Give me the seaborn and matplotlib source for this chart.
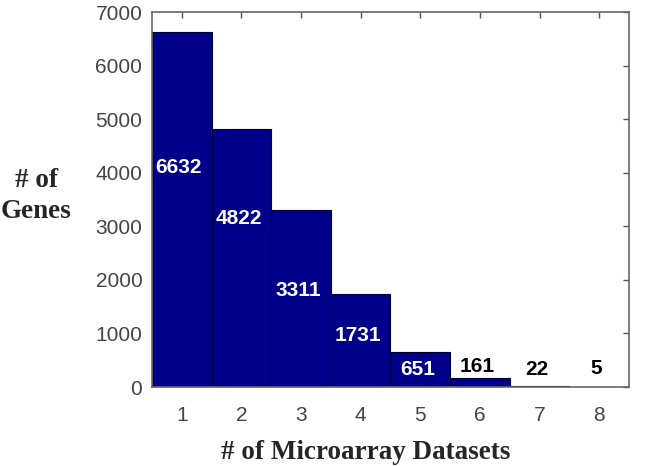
import matplotlib
matplotlib.use("Agg")
import matplotlib.pyplot as plt
import seaborn as sns

datasets = [1, 2, 3, 4, 5, 6, 7, 8]
genes = [6632, 4822, 3311, 1731, 651, 161, 22, 5]
label_y = [4100, 3150, 1810, 970, 320, 390, 320, 350]
label_color = ["white", "white", "white", "white", "white", "black", "black", "black"]

sns.set_style("white")

fig = plt.figure(figsize=(6.48, 4.66), dpi=100)
ax = fig.add_axes([0.2346, 0.1695, 0.736, 0.8045])

sns.barplot(x=datasets, y=genes, color="#00008B", saturation=1, width=1,
            edgecolor="#000033", linewidth=0.8, ax=ax)

for i, (v, y, c) in enumerate(zip(genes, label_y, label_color)):
    ax.text(i - 0.05, y, str(v), color=c, ha="center", va="center",
            fontsize=15, fontweight="bold", family="Liberation Sans")

ax.set_xlim(-0.5, 7.5)
ax.set_ylim(0, 7000)
ax.set_yticks(range(0, 7001, 1000))
ax.tick_params(direction="in", top=True, right=True, length=4, width=1,
               color="#555555", labelsize=15, labelcolor="#444444")
ax.tick_params(axis="y", pad=7)
ax.tick_params(axis="x", pad=14)
for lab in ax.get_xticklabels() + ax.get_yticklabels():
    lab.set_family("Liberation Sans")
for s in ax.spines.values():
    s.set_color("#666666")
    s.set_linewidth(1.2)

# axis titles sit as figure text, like in the original figure
fig.text(0.565, 0.030, "# of Microarray Datasets", fontsize=19.5, fontweight="bold",
         family="Liberation Serif", ha="center", va="center")
fig.text(0.056, 0.580, "# of\nGenes", fontsize=19.5, fontweight="bold",
         family="Liberation Serif", ha="center", va="center", linespacing=1.3)

fig.savefig("out.png", dpi=100)
